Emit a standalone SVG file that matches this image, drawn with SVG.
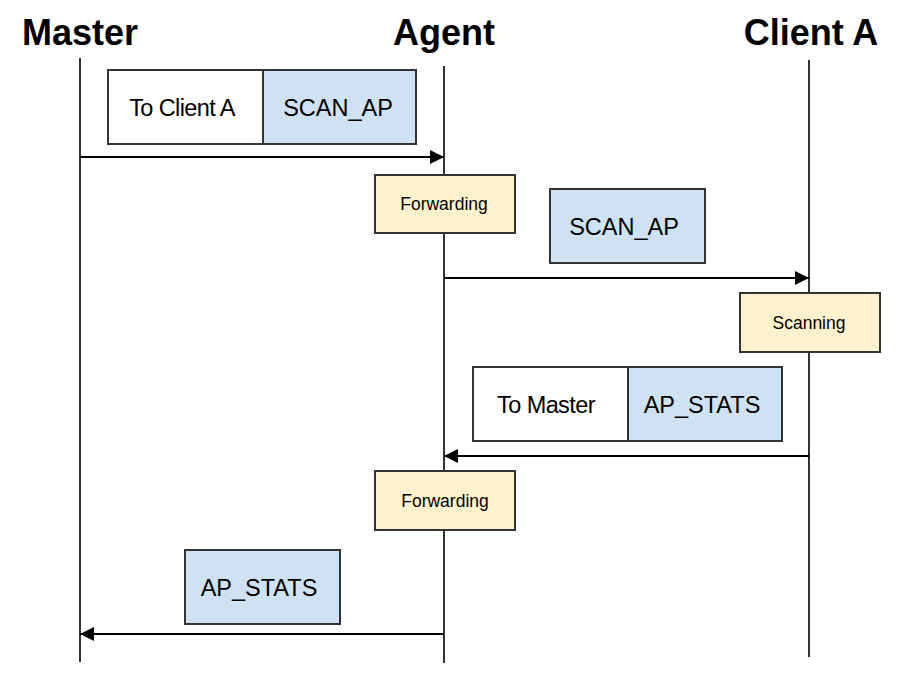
<svg xmlns="http://www.w3.org/2000/svg" width="905" height="688" viewBox="0 0 905 688">
<style>
.title{font-family:"Liberation Sans",Arial,sans-serif;font-weight:bold;font-size:36px;fill:#000;text-anchor:middle}
.lbl{font-family:"Liberation Sans",Arial,sans-serif;font-size:23.5px;fill:#000;text-anchor:middle;dominant-baseline:central}
.sm{font-family:"Liberation Sans",Arial,sans-serif;font-size:17.5px;fill:#000;text-anchor:middle;dominant-baseline:central}
.life{stroke:#333;stroke-width:2;fill:none}
.box{stroke:#333;stroke-width:2}
.w{fill:#fff}.b{fill:#cfe2f3}.y{fill:#fff2cc}
.arr{stroke:#000;stroke-width:2;fill:none;marker-end:url(#ah)}
</style>
<defs>
<marker id="ah" viewBox="0 0 10 10" refX="10" refY="5" markerWidth="7" markerHeight="7" orient="auto" markerUnits="strokeWidth"><path d="M0,0 L10,5 L0,10 z" fill="#000"/></marker>
</defs>
<rect width="905" height="688" fill="#fff"/>
<g id="lifelines">
<text class="title" x="80" y="45">Master</text>
<text class="title" x="444" y="45">Agent</text>
<text class="title" x="811" y="45">Client A</text>
<line class="life" x1="80" y1="58" x2="80" y2="662"/>
<line class="life" x1="444" y1="66" x2="444" y2="663"/>
<line class="life" x1="809" y1="60" x2="809" y2="657"/>
</g>
<g id="connectors">
<line class="arr" x1="80" y1="157" x2="444" y2="157"/>
<line class="arr" x1="444" y1="278" x2="809" y2="278"/>
<line class="arr" x1="809" y1="456" x2="444" y2="456"/>
<line class="arr" x1="444" y1="634" x2="80" y2="634"/>
</g>
<g id="msg1">
<rect class="box w" x="108" y="70" width="155" height="74"/>
<rect class="box b" x="263" y="70" width="153" height="74"/>
<text class="lbl" x="182" y="108" letter-spacing="-0.6">To Client A</text>
<text class="lbl" x="338" y="108">SCAN_AP</text>
</g>
<g id="fwd1">
<rect class="box y" x="375" y="175" width="140" height="58"/>
<text class="sm" x="444" y="204">Forwarding</text>
</g>
<g id="msg2">
<rect class="box b" x="550" y="189" width="155" height="74"/>
<text class="lbl" x="624" y="227">SCAN_AP</text>
</g>
<g id="scan">
<rect class="box y" x="740" y="293" width="140" height="59"/>
<text class="sm" x="809" y="323">Scanning</text>
</g>
<g id="msg3">
<rect class="box w" x="473" y="367" width="155" height="74"/>
<rect class="box b" x="628" y="367" width="154" height="74"/>
<text class="lbl" x="546" y="405" letter-spacing="-0.6">To Master</text>
<text class="lbl" x="702" y="405">AP_STATS</text>
</g>
<g id="fwd2">
<rect class="box y" x="375" y="471" width="140" height="59"/>
<text class="sm" x="445" y="501">Forwarding</text>
</g>
<g id="msg4">
<rect class="box b" x="185" y="550" width="155" height="74"/>
<text class="lbl" x="259" y="588">AP_STATS</text>
</g>
</svg>
